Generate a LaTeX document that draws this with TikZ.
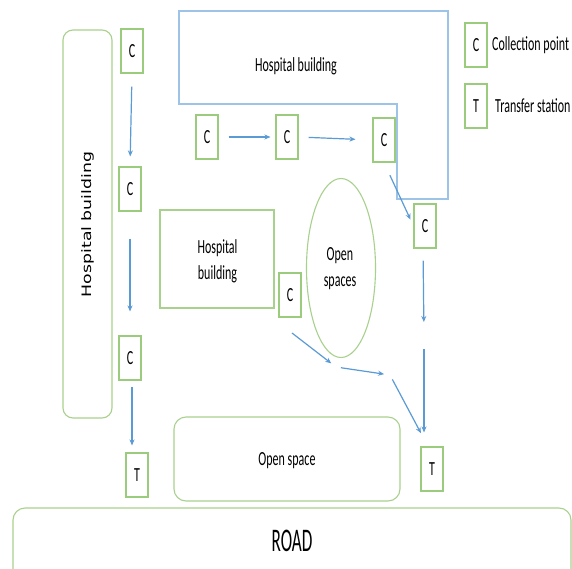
\documentclass[tikz,border=0pt]{standalone}
\usepackage{fontspec}
\usetikzlibrary{arrows.meta,shapes.geometric}
\newfontfamily\calf[FakeStretch=0.6]{Carlito}
\newfontfamily\roadf[FakeStretch=0.52]{Carlito}
\newfontfamily\vertf{DejaVu Sans}
\definecolor{boxgreen}{HTML}{9BCB7C}
\definecolor{lightgreen}{HTML}{A9D18E}
\definecolor{arrowblue}{HTML}{5B9BD5}
\definecolor{bldblue}{HTML}{9DC3E6}
\begin{document}
\begin{tikzpicture}[x=1pt,y=-1pt,
  txt/.style={font=\calf\fontsize{20}{26}\selectfont, align=center, inner sep=0pt},
  cbox/.style={draw=boxgreen, line width=1.1pt, minimum width=22pt, minimum height=44pt, inner sep=0pt, font=\calf\fontsize{20}{24}\selectfont},
  area/.style={draw=lightgreen, line width=1.1pt, inner sep=0pt},
  flow/.style={draw=arrowblue, line width=1.2pt, -{Stealth[length=6pt,width=5pt]}}
]
\clip (0,0) rectangle (572,569);
\fill[white] (0,0) rectangle (572,569);

% areas
\node[area, rounded corners=10pt, minimum width=49pt, minimum height=388pt] (lbld) at (87.5,224) {};
\node[rotate=90, inner sep=0pt, font=\vertf\fontsize{13}{15}\selectfont] (lbldtxt) at (88,224.5) {\scalebox{1.33}[1]{Hospital building}};

\draw[draw=bldblue, line width=1.1pt] (179,11) -- (448,11) -- (448,199) -- (397,199) -- (397,104) -- (179,104) -- cycle;
\node[txt] (tbldtxt) at (296,66) {Hospital building};

\node[area, minimum width=114pt, minimum height=98pt] (mbld) at (217,259) {};
\node[txt] (mbldtxt) at (217.5,261) {Hospital\\building};

\node[area, ellipse, minimum width=69pt, minimum height=179pt] (ell) at (341,268) {};
\node[txt] (elltxt) at (340,269) {Open\\spaces};

\node[area, rounded corners=12pt, minimum width=226pt, minimum height=84pt] (osp) at (287,459) {};
\node[txt] (osptxt) at (287,461) {Open space};

\draw[area, rounded corners=12pt] (13,508) rectangle (571,600);
\node[inner sep=0pt, font=\roadf\fontsize{33}{36}\selectfont] (road) at (292,541) {ROAD};

% collection points and transfer stations
\node[cbox] (c1) at (132,51) {C};
\node[cbox] (c2) at (130,189) {C};
\node[cbox] (c3) at (130,358) {C};
\node[cbox] (t1) at (137,475) {T};
\node[cbox] (c4) at (207,137) {C};
\node[cbox] (c5) at (287,137) {C};
\node[cbox] (c6) at (384,140) {C};
\node[cbox] (c7) at (425,226) {C};
\node[cbox] (c8) at (290,295) {C};
\node[cbox] (t2) at (432,469) {T};

% legend
\node[cbox] (lc) at (476,45) {C};
\node[txt, anchor=west] (lctxt) at (492,45) {Collection point};
\node[cbox] (lt) at (476,106) {T};
\node[txt, anchor=west] (lttxt) at (495,106) {Transfer station};

% waypoints
\coordinate (m) at (424,336);
\coordinate (s9) at (292,333);
\coordinate (j1) at (336,367);
\coordinate (j2) at (390,375);

% flows
\draw[flow, shorten <=13pt, shorten >=10pt] (c1.south) -- (c2.north);
\draw[flow, shorten <=27pt, shorten >=24pt] (c2.south) -- (c3.north);
\draw[flow, shorten <=6pt, shorten >=7pt] ([xshift=2pt]c3.south) -- ([xshift=2pt]c3.south |- t1.north);
\draw[flow, shorten <=10pt, shorten >=5pt] (c4.east) -- (c5.west);
\draw[flow, shorten <=10pt, shorten >=17pt] (c5.east) -- (c6.west);
\draw[flow, shorten <=14pt, shorten >=7pt] (c6.south) -- (c7.west);
\draw[flow, shorten <=12pt, shorten >=14pt] ([xshift=-2pt]c7.south) -- (m);
\draw[flow, shorten <=13pt, shorten >=14pt] (m) -- (m |- t2.north);
\draw[flow, shorten >=6pt] (s9) -- (j1);
\draw[flow, shorten <=5pt, shorten >=6pt] (j1) -- (j2);
\draw[flow, shorten <=5pt, shorten >=15pt] (j2) -- ([xshift=-4pt]t2.north);
\end{tikzpicture}
\end{document}
